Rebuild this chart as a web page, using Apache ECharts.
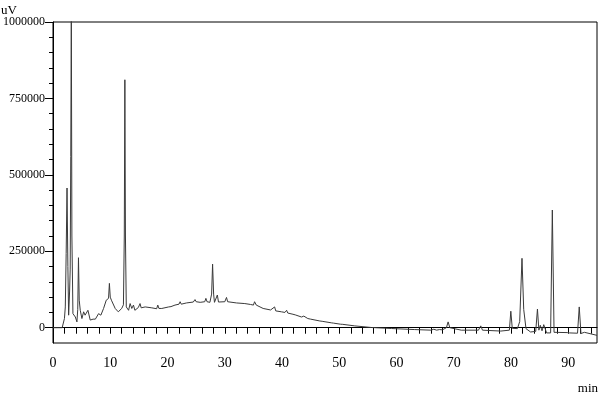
<!DOCTYPE html>
<html>
<head>
<meta charset="utf-8">
<script src="https://cdn.jsdelivr.net/npm/echarts@6/dist/echarts.min.js"></script>
<style>html,body{margin:0;padding:0;background:#fff;}#chart{width:600px;height:400px;}</style>
</head>
<body>
<div id="chart"></div>
<script>
// Retention time (min)
var times = [0,1.6,1.75,2.0,2.15,2.3,2.45,2.6,2.73,2.9,3.0,3.1,3.2,3.3,3.48,3.7,3.9,4.18,4.32,4.45,4.58,4.76,5.05,5.35,5.6,5.85,6.1,6.5,7.0,7.4,7.96,8.36,8.83,9.3,9.7,9.85,10.0,10.2,10.86,11.4,12.0,12.3,12.45,12.55,12.65,12.8,13.2,13.47,13.76,14.05,14.3,14.9,15.2,15.4,16.1,17.25,18.1,18.3,18.5,19.0,20.2,20.4,20.6,21.3,22.0,22.2,22.4,23.3,24.5,24.8,25.0,25.7,26.5,26.7,26.9,27.4,27.7,27.87,28.05,28.2,28.5,28.7,28.9,29.15,30.0,30.3,30.5,32.05,33.5,34.5,35.0,35.2,35.5,36.7,38.0,38.7,38.9,39.9,40.5,40.8,41.0,41.9,42.1,42.3,43.4,43.8,44.0,44.5,45.0,46.6,46.8,47.0,48.6,48.8,49.0,50.2,50.4,50.6,52.7,55.6,59.1,63.1,66.0,66.5,67.0,67.5,68.0,68.7,69.0,69.3,69.6,71.3,74.3,74.7,75.0,78.2,79.7,79.95,80.2,80.5,81.1,81.5,81.9,82.2,82.6,83.4,84.3,84.6,84.85,85.1,85.4,85.7,86.2,86.9,87.2,87.5,87.8,89.8,90.0,90.2,91.6,91.9,92.2,92.8,93.0,95];
// Detector signal (uV)
var signal = [0,0,3000,30000,68000,243000,457000,200000,41000,120000,189000,560000,1050000,300000,46000,50000,35000,19000,60000,229000,90000,57000,30000,52000,41000,45000,57000,25000,28000,28000,46000,41000,63000,90000,96000,145000,100000,90000,63000,52000,63000,75000,300000,811000,300000,68000,57000,79000,63000,74000,57000,66000,79000,65000,68000,65000,62000,74000,63000,63000,68000,74000,69000,74000,77000,85000,77000,81000,84000,92000,85000,83000,85000,96000,85000,83000,110000,208000,110000,83000,85000,107000,84000,83000,85000,99000,85000,81000,79000,76000,74000,85000,74000,63000,58000,68000,55000,52000,50000,57000,48000,44000,48000,42000,35000,38000,32000,30000,28000,22000,26000,21000,16000,20000,15000,11500,15000,11000,6000,700,-2600,-6000,-8000,-5000,-8000,-6000,-7000,0,19000,0,-6000,-8000,-8000,6000,-8000,-11000,-8000,54000,-2000,-8000,-3000,20000,227000,60000,-3000,-14000,-12000,61000,-8000,8000,-10000,10000,-17000,-17000,385000,-15000,-17000,-16000,-12000,-17000,-18000,68000,-19000,-15000,-20000,-25000];
var xLabels = [0,10,20,30,40,50,60,70,80,90];
var xTicks = [0,2,4,6,8,10,12,14,16,18,20,22,24,26,28,30,32,34,36,38,40,42,44,46,48,50,52,54,56,58,60,62,64,66,68,70,72,74,76,78,80,82,84,86,88,90,92,94];
var yLabels = [0,250000,500000,750000,1000000];
var yMinorTicks = [0,50000,100000,150000,200000,250000,300000,350000,400000,450000,500000,550000,600000,650000,700000,750000,800000,850000,900000,950000,1000000];
var yUnit = 'uV';
var xUnit = 'min';

var data = times.map(function(t, i){ return [t, signal[i]]; });
var font = 'Liberation Serif';
var chart = echarts.init(document.getElementById('chart'), null, {renderer: 'canvas'});
chart.setOption({
  animation: false,
  backgroundColor: '#fff',
  grid: {left: 51, top: 22, right: 3, bottom: 57, show: true, borderColor: '#000', borderWidth: 1, backgroundColor: 'transparent'},
  xAxis: {
    type: 'value', min: 0, max: 95,
    axisLine: {lineStyle: {color: '#000', width: 1}},
    axisTick: {show: true, customValues: xTicks, length: 6, lineStyle: {color: '#000'}},
    axisLabel: {customValues: xLabels, margin: 13, color: '#000', fontFamily: font, fontSize: 14, formatter: function(v){return String(v);}},
    splitLine: {show: false}
  },
  yAxis: [{
    type: 'value', min: -50000, max: 1000000,
    axisLine: {show: true, lineStyle: {color: '#000', width: 1}},
    axisTick: {show: true, customValues: yMinorTicks, length: 4, lineStyle: {color: '#000'}},
    axisLabel: {customValues: yLabels, margin: 8, color: '#000', fontFamily: font, fontSize: 12, formatter: function(v){return String(v);}},
    splitLine: {show: false}
  }, {
    type: 'value', min: -50000, max: 1000000, position: 'left',
    axisLine: {show: false},
    axisTick: {show: true, customValues: yLabels, length: 8, lineStyle: {color: '#000'}},
    axisLabel: {show: false},
    splitLine: {show: false}
  }],
  series: [{
    type: 'line', data: data, showSymbol: false, clip: true,
    lineStyle: {color: '#3a3a3a', width: 1}
  }],
  graphic: [
    {type: 'text', left: 1, top: 4, style: {text: yUnit, fill: '#000', font: '13px "Liberation Serif"'}},
    {type: 'text', right: 2, top: 382, style: {text: xUnit, fill: '#000', font: '13px "Liberation Serif"'}}
  ]
});
</script>
</body>
</html>
